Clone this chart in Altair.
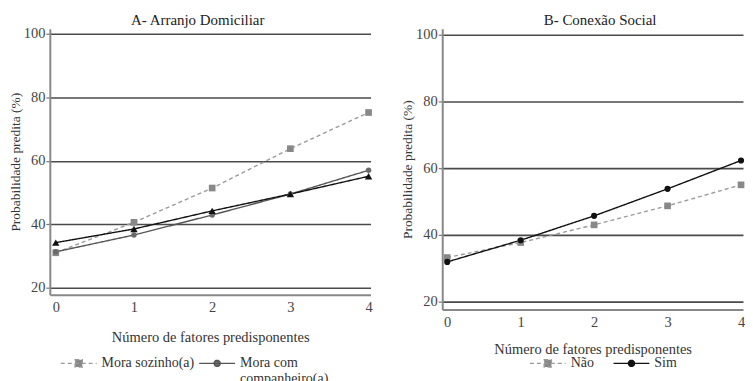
import sys
import altair as alt
import pandas as pd

FONT = "Times New Roman, Liberation Serif, serif"

# ---------------- data ----------------
x_vals = [0, 1, 2, 3, 4]
y_ticks = [20, 40, 60, 80, 100]
x_title = "Número de fatores predisponentes"
y_title = "Probabilidade predita (%)"

a_title = "A- Arranjo Domiciliar"
a_series = ["Mora sozinho(a)", "Mora com companheiro(a)", "Outros arranjos"]
a_sozinho = [31.0, 40.6, 51.4, 63.8, 75.2]
a_companheiro = [31.3, 36.6, 42.9, 49.5, 57.0]
a_outros = [34.2, 38.5, 44.2, 49.5, 55.1]

b_title = "B- Conexão Social"
b_series = ["Não", "Sim"]
b_nao = [33.2, 37.7, 43.0, 48.7, 55.0]
b_sim = [31.9, 38.4, 45.7, 53.8, 62.3]

# ---------------- styles ----------------
a_line_colors = ["#9a9a9a", "#555555", "#111111"]
a_marker_colors = ["#888888", "#6a6a6a", "#111111"]
a_dashes = [[4, 3], [1, 0], [1, 0]]
a_shapes = ["square", "circle", "triangle-up"]
a_sizes = [45, 30, 55]

b_line_colors = ["#9a9a9a", "#111111"]
b_marker_colors = ["#888888", "#111111"]
b_dashes = [[4, 3], [1, 0]]
b_shapes = ["square", "circle"]
b_sizes = [45, 38]

# legend symbols: short line with the series marker on it
SQ = "M-1,0H1M-0.2,-0.2H0.2V0.2H-0.2Z"
CI = "M-1,0H1M0.17,0A0.17,0.17 0 1,1 -0.17,0A0.17,0.17 0 1,1 0.17,0Z"
TR = "M-1,0H1M0,-0.26L0.25,0.18H-0.25Z"
a_paths = [SQ, CI, TR]
b_paths = [SQ, CI]


def make_legend(lx, ly, colpad, rowpad, label_expr=None):
    kw = dict(orient="none", legendX=lx, legendY=ly, title=None, columns=2, direction="horizontal",
              symbolSize=1296, symbolStrokeWidth=1.4, symbolOpacity=1, labelFont=FONT,
              labelFontSize=14, labelColor="#333333", labelOffset=4, columnPadding=colpad,
              rowPadding=rowpad, padding=0, symbolOffset=0, labelBaseline="middle",
              gridAlign="none")
    if label_expr:
        kw["labelExpr"] = label_expr
    return alt.Legend(**kw)


def panel(title, dx, names, series_vals, width, height, xdom, ydom, legend, paths,
          line_colors, marker_colors, dashes, shapes, sizes, xtitle_pad):
    rows = [{"x": x, "y": v, "serie": n}
            for n, vals in zip(names, series_vals) for x, v in zip(x_vals, vals)]
    df = pd.DataFrame(rows)
    xscale = alt.Scale(domain=xdom, nice=False, zero=False)
    xenc = alt.X("x:Q", scale=xscale,
                 axis=alt.Axis(orient="bottom", values=x_vals, format="d", title=x_title,
                               grid=False, ticks=False, labelPadding=6, titlePadding=xtitle_pad,
                               labelFontSize=14.5, titleFontSize=14.5))
    xplain = alt.X("x:Q", scale=xscale, axis=None)
    # panel title carried by a top axis
    xtop = alt.X("x:Q", scale=xscale,
                 axis=alt.Axis(orient="top", title=title, labels=False, ticks=False, domain=False,
                               grid=False, titlePadding=1, titleFontSize=15, titleColor="#222222",
                               titleX=width / 2 + dx))
    yenc = alt.Y("y:Q", scale=alt.Scale(domain=ydom, nice=False, zero=False),
                 axis=alt.Axis(values=y_ticks, title=y_title, grid=True, ticks=True, tickSize=4,
                               labelPadding=1, titlePadding=1, labelFontSize=14.5,
                               titleFontSize=13.5))
    base = alt.Chart(df)
    stroke_scale = alt.Scale(domain=names, range=line_colors)
    dash_scale = alt.Scale(domain=names, range=dashes)
    lines = base.mark_line(strokeWidth=1.4).encode(
        x=xenc, y=yenc,
        stroke=alt.Stroke("serie:N", scale=stroke_scale, legend=legend),
        strokeDash=alt.StrokeDash("serie:N", scale=dash_scale, legend=legend),
    )
    layers = [lines]
    for n, col, shp, sz in zip(names, marker_colors, shapes, sizes):
        layers.append(
            base.transform_filter(alt.datum.serie == n)
            .mark_point(filled=True, opacity=1, shape=shp, size=sz, color=col)
            .encode(x=xplain, y=yenc)
        )
    # legend carrier: same series, no rows drawn; its legend merges fill/stroke/shape/dash
    legend_layer = base.transform_filter("false").mark_point(
        filled=True, size=1296, opacity=1, strokeWidth=1.4).encode(
        x=xtop, y=yenc,
        fill=alt.Fill("serie:N", scale=alt.Scale(domain=names, range=marker_colors), legend=legend),
        stroke=alt.Stroke("serie:N", scale=stroke_scale, legend=legend),
        shape=alt.Shape("serie:N", scale=alt.Scale(domain=names, range=paths), legend=legend),
        strokeDash=alt.StrokeDash("serie:N", scale=dash_scale, legend=legend),
    )
    layers.append(legend_layer)
    return alt.layer(*layers).resolve_axis(x="independent").properties(width=width, height=height)


leg_a = make_legend(10, 317, 2, 0,
                    "datum.label === 'Mora com companheiro(a)' ? ['Mora com', 'companheiro(a)'] : datum.label")
leg_b = make_legend(87, 317, 16, 0)

pa = panel(a_title, -13, a_series, [a_sozinho, a_companheiro, a_outros], 322, 267,
           [-0.076, 4.025], [17.8, 101.6], leg_a, a_paths,
           a_line_colors, a_marker_colors, a_dashes, a_shapes, a_sizes, 17)
pb = panel(b_title, 7, b_series, [b_nao, b_sim], 302, 282,
           [-0.068, 4.027], [17.6, 101.8], leg_b, b_paths,
           b_line_colors, b_marker_colors, b_dashes, b_shapes, b_sizes, 14)

chart = (
    alt.hconcat(pa, pb, spacing=28)
    .resolve_scale(color="independent", fill="independent", stroke="independent",
                   strokeDash="independent", shape="independent")
    .properties(padding={"left": 0, "top": 4, "right": 0, "bottom": 0}, background="white")
    .configure(font=FONT)
    .configure_view(strokeWidth=0)
    .configure_axis(domainColor="#888888", domainWidth=2, gridColor="#4a4a4a", gridWidth=1.6,
                    tickColor="#777777", tickWidth=1.2, labelFont=FONT, labelColor="#444444",
                    titleFont=FONT, titleFontWeight="normal", titleColor="#333333")
)

chart.save("out.html", embed_options={"renderer": "svg", "actions": False})
